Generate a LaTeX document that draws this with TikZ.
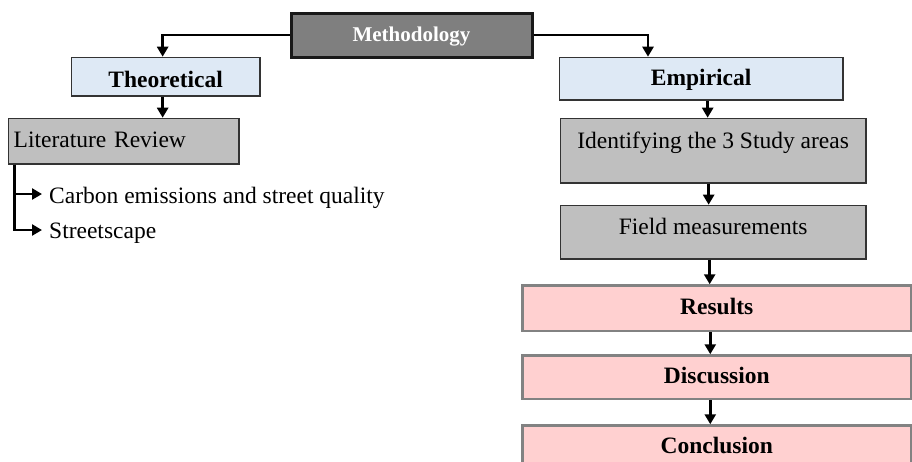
\documentclass[tikz,border=0pt]{standalone}
\usepackage{fontspec}
\setmainfont{Liberation Serif}
\usetikzlibrary{arrows.meta,calc}
\definecolor{methfill}{HTML}{7F7F7F}
\definecolor{bluefill}{HTML}{DEE9F5}
\definecolor{greyfill}{HTML}{BFBFBF}
\definecolor{pinkfill}{HTML}{FFD0D0}
\definecolor{pinkline}{HTML}{828282}
\definecolor{darkline}{HTML}{333333}
\begin{document}
\begin{tikzpicture}[x=1pt,y=-1pt,
  basebox/.style={rectangle,anchor=north west,inner sep=0pt,font=\fontsize{23.5}{28}\selectfont},
  methbox/.style={basebox,fill=methfill,draw=black!90,line width=3pt,text=white,font=\fontsize{21}{25}\selectfont\bfseries},
  bluebox/.style={basebox,fill=bluefill,draw=darkline,line width=1.3pt,font=\fontsize{23.5}{28}\selectfont\bfseries},
  greybox/.style={basebox,fill=greyfill,draw=darkline,line width=1.3pt},
  pinkbox/.style={basebox,fill=pinkfill,draw=pinkline,line width=2.5pt,minimum width=388.5pt,font=\fontsize{23.5}{28}\selectfont\bfseries},
  plaintext/.style={inner sep=0pt,anchor=base west,font=\fontsize{23.5}{28}\selectfont},
  arr/.style={line width=2.5pt,-{Triangle[width=11pt,length=10pt]}}]
\useasboundingbox (0,0) rectangle (912,461);
% boxes
\node[methbox,minimum width=241pt,text height=28.5pt,text depth=15.5pt] (meth) at (289.5,11.5) {Methodology};
\node[bluebox,minimum width=188.6pt,text height=30.3pt,text depth=8.3pt] (theo) at (70.7,56.7) {Theoretical};
\node[greybox,inner xsep=5.3pt,text width=220pt,align=left,text height=29.3pt,text depth=16.3pt] (lr) at (7.7,117.7) {Literature Review};
\node[bluebox,minimum width=283.6pt,text height=28.3pt,text depth=14.3pt] (emp) at (558.7,56.7) {Empirical};
\node[greybox,minimum width=305.6pt,text height=30.3pt,text depth=34.3pt] (id) at (559.7,117.7) {Identifying the 3 Study areas};
\node[greybox,minimum width=305.6pt,text height=29.3pt,text depth=24.3pt] (field) at (559.7,204.7) {Field measurements};
\node[pinkbox,text height=28.75pt,text depth=16.75pt] (res) at (521.25,284.25) {Results};
\node[pinkbox,text height=27.75pt,text depth=15.75pt] (disc) at (521.25,354.25) {Discussion};
\node[pinkbox,text height=27.75pt,text depth=17.75pt] (conc) at (521.25,424.25) {Conclusion};
% list texts
\node[plaintext] (carbon) at (49,203) {Carbon emissions and street quality};
\node[plaintext] (street) at (49,238) {Streetscape};
% connector points
\coordinate (theoin) at ($(theo.north)+(-3,0)$);
\coordinate (empin) at ($(emp.north west)+(89.3,0)$);
\coordinate (theoout) at ($(theo.south)+(-3,0)$);
\coordinate (lrout) at ($(lr.south west)+(7,0)$);
\coordinate (carbonin) at ($(carbon.base west)+(-7,-9)$);
\coordinate (streetin) at ($(street.base west)+(-7,-8)$);
\coordinate (empout) at ($(emp.south)+(6.5,0)$);
\coordinate (idout) at ($(id.south)+(-4.5,0)$);
\coordinate (fieldout) at ($(field.south)+(-3.5,0)$);
\coordinate (resout) at ($(res.south)+(-6.5,0)$);
\coordinate (discout) at ($(disc.south)+(-6.5,0)$);
% connectors
\draw[arr] (meth.west) -| (theoin);
\draw[arr] (meth.east) -| (empin);
\draw[arr] (theoout) -- (theoout |- lr.north);
\draw[arr] (lrout) |- (carbonin);
\draw[arr] (lrout) |- (streetin);
\draw[arr] (empout) -- (empout |- id.north);
\draw[arr] (idout) -- (idout |- field.north);
\draw[arr] (fieldout) -- (fieldout |- res.north);
\draw[arr] (resout) -- (resout |- disc.north);
\draw[arr] (discout) -- (discout |- conc.north);
\end{tikzpicture}
\end{document}
